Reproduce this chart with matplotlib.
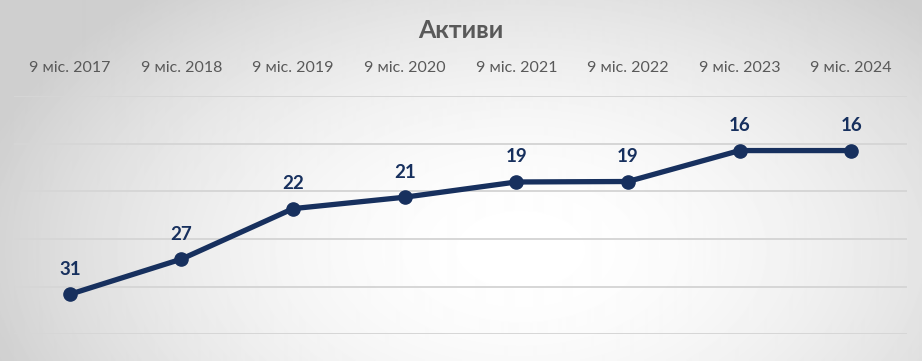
import numpy as np
import matplotlib.pyplot as plt

# data
periods = ['9 міс. 2017', '9 міс. 2018', '9 міс. 2019', '9 міс. 2020',
           '9 міс. 2021', '9 міс. 2022', '9 міс. 2023', '9 міс. 2024']
values = [30.8, 27.1, 21.8, 20.6, 19.0, 18.95, 15.7, 15.7]

NAVY = '#17305e'
GREY = '#595959'
FONT = ['Lato', 'Open Sans', 'DejaVu Sans']

plt.rcParams['font.family'] = FONT

fig = plt.figure(figsize=(9.22, 3.61), dpi=100)

# radial background: white in the middle, grey towards the edges
bg = fig.add_axes([0, 0, 1, 1], zorder=0)
h, w = 361, 922
yy, xx = np.mgrid[0:h, 0:w]
d = np.sqrt(((xx - 520) / 560.0) ** 2 + ((yy - 250) / 340.0) ** 2)
shade = 1.0 - 0.19 * np.clip(d, 0, 1.0) ** 1.8
bg.imshow(shade, cmap='gray', vmin=0, vmax=1, aspect='auto', interpolation='bilinear')
bg.set_axis_off()

ax = fig.add_axes([14 / 922, 1 - 334.3 / 361, 893 / 922, (334.3 - 96.3) / 361], zorder=1)
ax.patch.set_alpha(0)

x = np.arange(len(periods))
ax.plot(x, values, color=NAVY, lw=3.8, marker='o', ms=9.5, zorder=3,
        solid_capstyle='round')

for xi, v in zip(x, values):
    ax.annotate(f'{v:.0f}', (xi, v), xytext=(0, 18), textcoords='offset points',
                ha='center', va='center', fontsize=13.5, fontweight='bold', color=NAVY)

ax.set_xlim(-0.5, len(periods) - 0.5)
ax.set_ylim(35, 10)
ax.set_yticks([10, 15, 20, 25, 30, 35])
ax.yaxis.grid(True, color='#d6d6d6', lw=1.4)
ax.set_axisbelow(True)
ax.tick_params(axis='y', left=False, labelleft=False)

ax.set_xticks(x)
ax.set_xticklabels(periods)
ax.xaxis.tick_top()
ax.tick_params(axis='x', top=False, bottom=False, pad=12, labelsize=11.5, labelcolor=GREY)

for s in ax.spines.values():
    s.set_visible(False)

fig.text(0.5, 1 - 31 / 361, 'Активи', ha='center', va='center',
         fontsize=18, fontweight='bold', color=GREY)

fig.savefig('out.png', dpi=100)
